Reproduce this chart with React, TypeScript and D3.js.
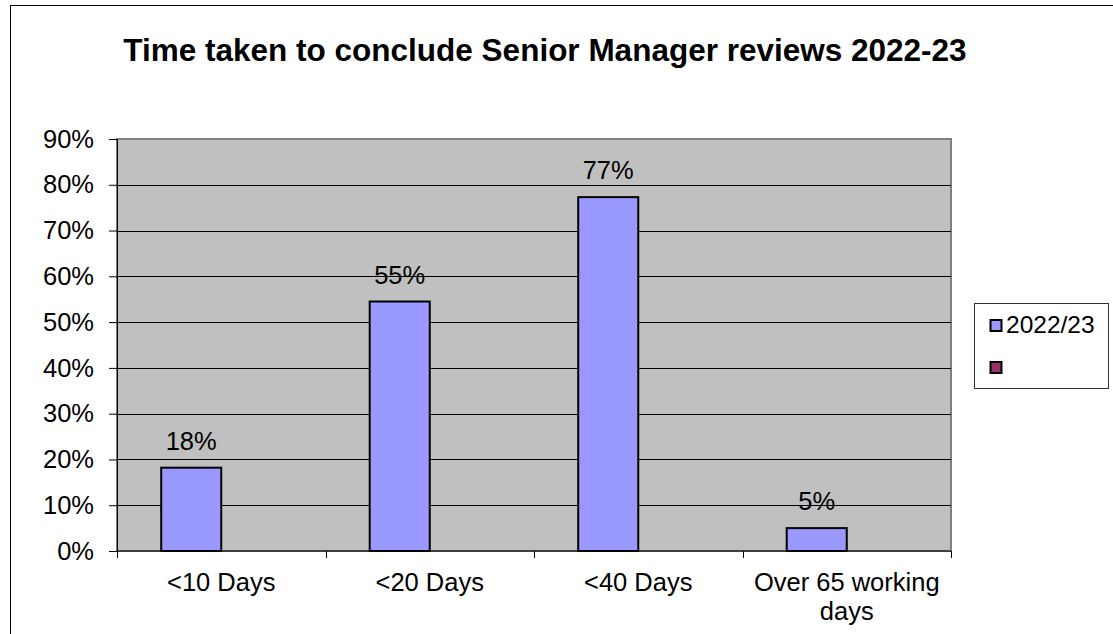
import { useEffect, useRef } from 'react';
import * as d3 from 'd3';

const title = 'Time taken to conclude Senior Manager reviews 2022-23';
const categories = ['<10 Days', '<20 Days', '<40 Days', 'Over 65 working days'];
const series2223 = [0.182, 0.545, 0.773, 0.05];
const seriesNames = ['2022/23', ''];
const seriesColors = ['#9999ff', '#993366'];
const yTicks = [0, 0.1, 0.2, 0.3, 0.4, 0.5, 0.6, 0.7, 0.8, 0.9];

export default function App() {
  const ref = useRef<SVGSVGElement>(null);

  useEffect(() => {
    const svg = d3.select(ref.current);
    svg.selectAll('*').remove();

    const plot = { left: 117, right: 951, top: 139, bottom: 551 };
    const font = 'Arial, "Liberation Sans", sans-serif';
    const fs = 25.5;

    // outer chart frame (cut off at right/bottom like the original)
    svg
      .append('rect')
      .attr('x', 10.5)
      .attr('y', 5.5)
      .attr('width', 1120)
      .attr('height', 640)
      .attr('fill', '#fff')
      .attr('stroke', '#000')
      .attr('stroke-width', 1);

    svg
      .append('text')
      .attr('x', 545)
      .attr('y', 61)
      .attr('text-anchor', 'middle')
      .attr('font-family', font)
      .attr('font-size', 31.5)
      .attr('font-weight', 'bold')
      .text(title);

    const x = d3.scaleBand().domain(categories).range([plot.left, plot.right]);
    const y = d3.scaleLinear().domain([0, 0.9]).range([plot.bottom, plot.top]);
    const barW = x.bandwidth() * 0.288;

    // plot background
    svg
      .append('rect')
      .attr('x', plot.left)
      .attr('y', plot.top)
      .attr('width', plot.right - plot.left)
      .attr('height', plot.bottom - plot.top)
      .attr('fill', '#c0c0c0')
      .attr('stroke', '#808080')
      .attr('stroke-width', 2);

    // gridlines
    svg
      .append('g')
      .selectAll('line')
      .data(yTicks.slice(1, -1))
      .join('line')
      .attr('x1', plot.left)
      .attr('x2', plot.right)
      .attr('y1', d => Math.round(y(d)) + 0.5)
      .attr('y2', d => Math.round(y(d)) + 0.5)
      .attr('stroke', '#000')
      .attr('stroke-width', 1);

    // y axis
    const yAxis = svg
      .append('g')
      .attr('transform', `translate(${plot.left},0)`)
      .call(
        d3
          .axisLeft(y)
          .tickValues(yTicks)
          .tickSize(8)
          .tickPadding(15)
          .tickFormat(d => `${Math.round(+d * 100)}%`)
      );
    yAxis.select('.domain').attr('stroke', '#000').attr('stroke-width', 1);
    yAxis.selectAll('.tick line').attr('stroke', '#000');
    yAxis
      .selectAll('.tick text')
      .attr('font-family', font)
      .attr('font-size', fs)
      .attr('fill', '#000');

    // x axis
    const xAxis = svg.append('g').attr('transform', `translate(0,${plot.bottom})`);
    xAxis
      .append('line')
      .attr('x1', plot.left)
      .attr('x2', plot.right)
      .attr('y1', 0)
      .attr('y2', 0)
      .attr('stroke', '#000');
    const bounds = categories.map(c => x(c) as number).concat([plot.right]);
    xAxis
      .selectAll('line.tk')
      .data(bounds)
      .join('line')
      .attr('class', 'tk')
      .attr('x1', d => Math.round(d) + 0.5)
      .attr('x2', d => Math.round(d) + 0.5)
      .attr('y1', 0)
      .attr('y2', 7)
      .attr('stroke', '#000');

    const labelLines: Record<string, string[]> = {
      'Over 65 working days': ['Over 65 working', 'days'],
    };
    categories.forEach(c => {
      const t = xAxis
        .append('text')
        .attr('x', (x(c) as number) + x.bandwidth() / 2)
        .attr('y', 40)
        .attr('text-anchor', 'middle')
        .attr('font-family', font)
        .attr('font-size', fs)
        .attr('fill', '#000');
      (labelLines[c] || [c]).forEach((line, i) => {
        t.append('tspan')
          .attr('x', (x(c) as number) + x.bandwidth() / 2)
          .attr('dy', i === 0 ? 0 : 29)
          .text(line);
      });
    });

    // bars (first series of a two-series group; second is empty)
    const barX = (c: string) => (x(c) as number) + x.bandwidth() / 2 - barW;
    svg
      .append('g')
      .selectAll('rect')
      .data(categories.map((c, i) => ({ c, v: series2223[i] })))
      .join('rect')
      .attr('x', d => barX(d.c))
      .attr('y', d => y(d.v))
      .attr('width', barW)
      .attr('height', d => y(0) - y(d.v))
      .attr('fill', seriesColors[0])
      .attr('stroke', '#000')
      .attr('stroke-width', 2);

    // value labels
    svg
      .append('g')
      .selectAll('text')
      .data(categories.map((c, i) => ({ c, v: series2223[i] })))
      .join('text')
      .attr('x', d => barX(d.c) + barW / 2)
      .attr('y', d => y(d.v) - 18)
      .attr('text-anchor', 'middle')
      .attr('font-family', font)
      .attr('font-size', fs)
      .attr('fill', '#000')
      .text(d => `${Math.round(d.v * 100)}%`);

    // legend
    const lg = svg.append('g');
    lg.append('rect')
      .attr('x', 974.5)
      .attr('y', 303.5)
      .attr('width', 134)
      .attr('height', 85)
      .attr('fill', '#fff')
      .attr('stroke', '#333')
      .attr('stroke-width', 1);
    seriesNames.forEach((name, i) => {
      lg.append('rect')
        .attr('x', 990.5)
        .attr('y', 320 + i * 42)
        .attr('width', 11)
        .attr('height', 11)
        .attr('fill', seriesColors[i])
        .attr('stroke', '#000')
        .attr('stroke-width', 2);
      lg.append('text')
        .attr('x', 1006)
        .attr('y', 333 + i * 42)
        .attr('font-family', font)
        .attr('font-size', 24.5)
        .attr('fill', '#000')
        .text(name);
    });
  }, []);

  return (
    <div style={{ position: 'fixed', left: 0, top: 0 }}>
      <svg ref={ref} width={1113} height={634} style={{ display: 'block', background: '#fff' }} />
    </div>
  );
}
